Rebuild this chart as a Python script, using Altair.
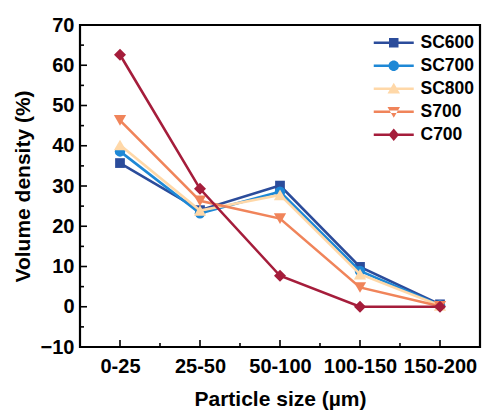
import json
import altair as alt
import pandas as pd

categories = ["0-25", "25-50", "50-100", "100-150", "150-200"]
series = ["SC600", "SC700", "SC800", "S700", "C700"]
colors = ["#2B4C9B", "#1E88D6", "#FFD8A8", "#F0845A", "#A51D3B"]
shapes = ["square", "circle", "triangle-up", "triangle-down", "diamond"]
sizes = [95, 110, 150, 150, 145]

sc600 = [35.7, 24.0, 30.1, 9.9, 0.6]
sc700 = [38.6, 23.2, 28.6, 8.9, 0.4]
sc800 = [40.2, 23.9, 27.8, 8.1, 0.3]
s700 = [46.3, 26.3, 21.9, 4.8, 0.1]
c700 = [62.6, 29.3, 7.7, 0.0, 0.0]
values = [sc600, sc700, sc800, s700, c700]

x_major = [1, 2, 3, 4, 5]
x_minor = [1.5, 2.5, 3.5, 4.5]
y_major = list(range(-10, 71, 10))
y_minor = list(range(-5, 70, 10))

# legend symbols: a short line with the marker on it
line_part = "M-4,-0.26H4V0.26H-4Z "
legend_paths = [
    line_part + "M-0.95,-0.95H0.95V0.95H-0.95Z",
    line_part + "M1.05,0A1.05,1.05 0 1,1 -1.05,0A1.05,1.05 0 1,1 1.05,0Z",
    line_part + "M0,-1.2L1.25,0.95H-1.25Z",
    line_part + "M0,1.2L1.25,-0.95H-1.25Z",
    line_part + "M0,-1.25L1.05,0L0,1.25L-1.05,0Z",
]

rows = []
for s, vals in zip(series, values):
    for i, (c, v) in enumerate(zip(categories, vals)):
        rows.append({"series": s, "idx": i + 1, "category": c, "value": v})
df = pd.DataFrame(rows)

FONT = "Liberation Sans"
W, H = 400, 322

label_expr = json.dumps(categories) + "[datum.value - 1]"

x_scale = alt.Scale(domain=[0.5, 5.5], nice=False, zero=False)
y_scale = alt.Scale(domain=[-10, 70], nice=False, zero=False)

x_axis = alt.Axis(
    values=x_major, labelExpr=label_expr, title="Particle size (µm)",
    ticks=False, domain=False, grid=False, labelPadding=9,
    labelFontSize=20, labelFont=FONT, labelFontWeight="bold", labelColor="black",
    titleFontSize=21, titleFont=FONT, titleFontWeight="bold", titleColor="black",
    titlePadding=12, labelOverlap=False,
)
y_axis = alt.Axis(
    values=y_major, title="Volume density (%)",
    ticks=False, domain=False, grid=False, labelPadding=6,
    labelFontSize=20, labelFont=FONT, labelFontWeight="bold", labelColor="black",
    titleFontSize=21, titleFont=FONT, titleFontWeight="bold", titleColor="black",
    titlePadding=7,
)


def X(field):
    return alt.X(field, scale=x_scale, axis=x_axis)


def Y(field):
    return alt.Y(field, scale=y_scale, axis=y_axis)


layers = []
base = alt.Chart(df)
for s, col, shp, sz in zip(series, colors, shapes, sizes):
    sub = base.transform_filter(alt.datum.series == s)
    line = sub.mark_line(color=col, strokeWidth=2.6).encode(x=X("idx:Q"), y=Y("value:Q"))
    pts = sub.mark_point(filled=True, shape=shp, size=sz, color=col, opacity=1).encode(
        x=X("idx:Q"), y=Y("value:Q"))
    layers += [line, pts]

leg = dict(
    orient="none", legendX=305, legendY=9, title=None, padding=0,
    labelFontSize=17.5, labelFont=FONT, labelFontWeight="bold", labelColor="black",
    symbolSize=100, symbolStrokeWidth=0, labelOffset=18, rowPadding=4,
)

# legend-only layer (no marks drawn)
legend_layer = base.transform_filter("false").mark_point(filled=True, opacity=1).encode(
    x=X("idx:Q"),
    y=Y("value:Q"),
    color=alt.Color("series:N", scale=alt.Scale(domain=series, range=colors),
                    legend=alt.Legend(**leg)),
    shape=alt.Shape("series:N", scale=alt.Scale(domain=series, range=legend_paths),
                    legend=alt.Legend(**leg)),
)

# inward tick marks
xt_major = alt.Chart(pd.DataFrame({"idx": x_major})).mark_rule(color="black", strokeWidth=1.6).encode(
    x=X("idx:Q"), y=alt.value(H), y2=alt.value(H - 7))
xt_minor = alt.Chart(pd.DataFrame({"idx": x_minor})).mark_rule(color="black", strokeWidth=1.6).encode(
    x=X("idx:Q"), y=alt.value(H), y2=alt.value(H - 4))
yt_major = alt.Chart(pd.DataFrame({"value": y_major})).mark_rule(color="black", strokeWidth=1.6).encode(
    y=Y("value:Q"), x=alt.value(0), x2=alt.value(7))
yt_minor = alt.Chart(pd.DataFrame({"value": y_minor})).mark_rule(color="black", strokeWidth=1.6).encode(
    y=Y("value:Q"), x=alt.value(0), x2=alt.value(4))

chart = alt.layer(*layers, xt_major, xt_minor, yt_major, yt_minor, legend_layer).properties(
    width=W, height=H,
    padding={"left": 80, "top": 25, "right": 2, "bottom": 65},
    autosize=alt.AutoSizeParams(type="none"),
    background="white",
).configure_view(stroke="black", strokeWidth=2.2)

chart.save("out.html", embed_options={"renderer": "svg", "actions": False})
